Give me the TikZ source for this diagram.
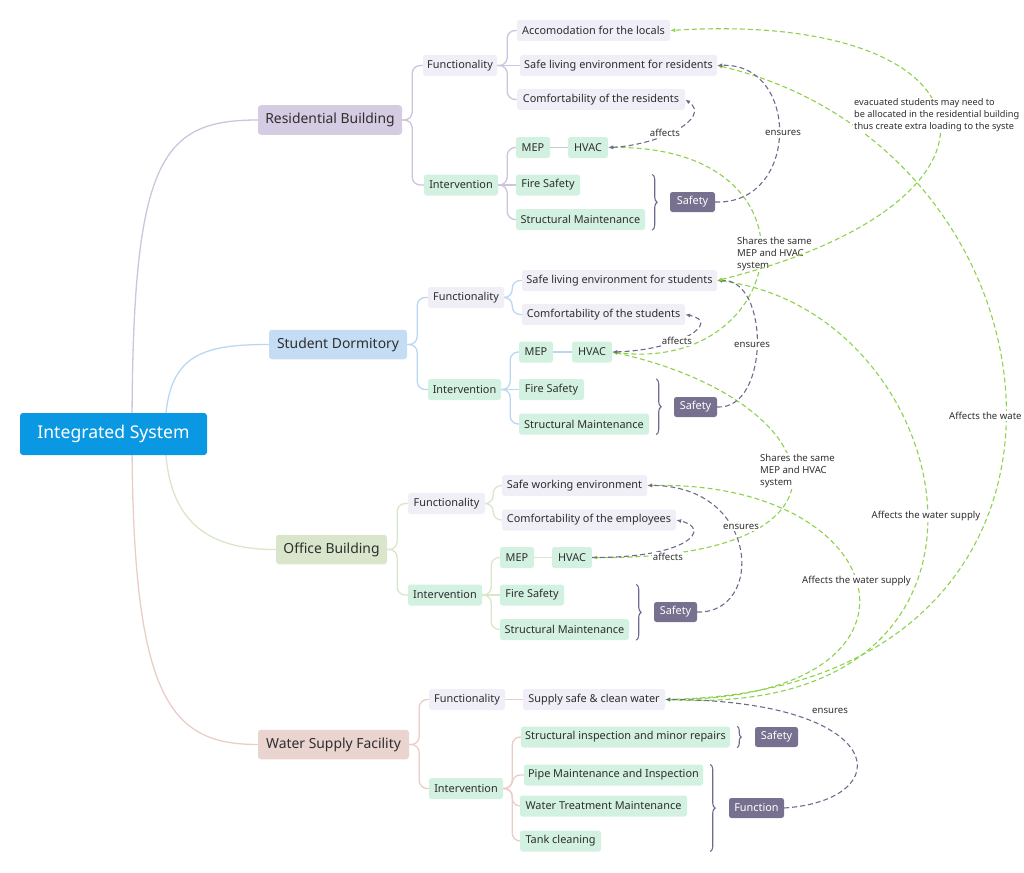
\documentclass[tikz,border=0pt]{standalone}
\usepackage{fontspec}
\setmainfont{Noto Sans}
\usetikzlibrary{arrows.meta,decorations.pathreplacing,calc,backgrounds}
\definecolor{rootblue}{HTML}{0A98E2}
\definecolor{txt}{HTML}{2E2E2E}
\definecolor{fgray}{HTML}{F0EFF7}
\definecolor{imint}{HTML}{D3F1E1}
\definecolor{sumpurple}{HTML}{77718F}
\definecolor{resfill}{HTML}{D5CBE3}
\definecolor{stufill}{HTML}{C5DDF4}
\definecolor{offfill}{HTML}{D9E6CB}
\definecolor{watfill}{HTML}{E9D4D0}
\definecolor{resline}{HTML}{CDC4DE}
\definecolor{stuline}{HTML}{BAD7F1}
\definecolor{offline}{HTML}{D8E7C9}
\definecolor{watline}{HTML}{EBCDC7}
\definecolor{relpurple}{HTML}{6F6A8F}
\definecolor{relgreen}{HTML}{8CD24A}
\definecolor{bracecol}{HTML}{6F6A8F}
\begin{document}
\begin{tikzpicture}[x=1pt,y=-1pt,
  box/.style={rounded corners=2.5pt, inner sep=0pt, minimum height=21pt, font=\fontsize{10.9}{13}\selectfont, text=txt},
  fbox/.style={box, fill=fgray},
  ibox/.style={box, fill=imint},
  sbox/.style={box, fill=sumpurple, text=white, minimum height=20pt},
  lone/.style={box, minimum height=29.5pt, font=\fontsize{13.9}{16}\selectfont, rounded corners=3pt},
  w/.style={minimum width=#1pt},
  lab/.style={font=\fontsize{9.6}{12}\selectfont, text=txt, inner sep=1pt},
  rel/.style={dash pattern=on 5pt off 3pt, line width=1.1pt},
  prel/.style={rel, draw=relpurple, arrows={-Latex[length=5pt,width=4pt]}},
  grel/.style={rel, draw=relgreen, arrows={Latex[length=5pt,width=4pt]-Latex[length=5pt,width=4pt]}},
  bothtips/.style={arrows={Latex[length=5pt,width=4pt]-Latex[length=5pt,width=4pt]}},
  brc/.style={decorate, decoration={brace, amplitude=5pt}, draw=bracecol, line width=1.1pt},
  tr/.style={line width=1.3pt, rounded corners=8pt}
]
\useasboundingbox (0,0) rectangle (1024,872);

% root
\node[box, fill=rootblue, text=white, minimum width=187pt, minimum height=42pt, rounded corners=3pt, font=\fontsize{17.6}{20}\selectfont] (root) at (113.5,434) {Integrated System};
\coordinate (rootA) at ($(root.center)+(18.5,0)$);
\coordinate (rootB) at ($(root.center)+(51.5,0)$);

% level one
\node[lone, fill=resfill, w=144] (res) at (330,120) {Residential Building};
\node[lone, fill=stufill, w=138] (stu) at (338,344.5) {Student Dormitory};
\node[lone, fill=offfill, w=111] (off) at (331.5,549.5) {Office Building};
\node[lone, fill=watfill, w=151] (wat) at (333.5,744.5) {Water Supply Facility};

% residential
\node[fbox, w=74] (rFunc) at (460,65.5) {Functionality};
\node[ibox, w=74] (rInt) at (461,185) {Intervention};
\node[fbox, w=153] (rAcc) at (593.5,30.5) {Accomodation for the locals};
\node[fbox, w=197] (rSafe) at (618.5,65.5) {Safe living environment for residents};
\node[fbox, w=168] (rComf) at (601,99.5) {Comfortability of the residents};
\node[ibox, w=34] (rMEP) at (533,147.5) {MEP};
\node[ibox, w=40] (rHVAC) at (588,147.5) {HVAC};
\node[ibox, w=64] (rFire) at (548,185) {Fire Safety};
\node[ibox, w=129] (rStruct) at (580.5,219.5) {Structural Maintenance};
\node[sbox, w=45] (rSafety) at (692.5,202) {Safety};

% student
\node[fbox, w=76] (sFunc) at (466,297.5) {Functionality};
\node[ibox, w=73] (sInt) at (464.5,389.5) {Intervention};
\node[fbox, w=195] (sSafe) at (619.5,280.5) {Safe living environment for students};
\node[fbox, w=163] (sComf) at (603.5,314.5) {Comfortability of the students};
\node[ibox, w=34] (sMEP) at (536,352) {MEP};
\node[ibox, w=40] (sHVAC) at (592,352) {HVAC};
\node[ibox, w=65] (sFire) at (551.5,389.5) {Fire Safety};
\node[ibox, w=130] (sStruct) at (584,424) {Structural Maintenance};
\node[sbox, w=43] (sSafety) at (695.5,407) {Safety};

% office
\node[fbox, w=77] (oFunc) at (446.5,503.5) {Functionality};
\node[ibox, w=74] (oInt) at (445,595) {Intervention};
\node[fbox, w=145] (oSafe) at (574.5,485.5) {Safe working environment};
\node[fbox, w=174] (oComf) at (589,520) {Comfortability of the employees};
\node[ibox, w=34] (oMEP) at (517,557.5) {MEP};
\node[ibox, w=40] (oHVAC) at (572,557.5) {HVAC};
\node[ibox, w=64] (oFire) at (532,595) {Fire Safety};
\node[ibox, w=129] (oStruct) at (564.5,629.5) {Structural Maintenance};
\node[sbox, w=43] (oSafety) at (675.5,612) {Safety};

% water
\node[fbox, w=76] (wFunc) at (467,699.5) {Functionality};
\node[ibox, w=74] (wInt) at (466,788.5) {Intervention};
\node[fbox, w=142] (wSupply) at (594,699.5) {Supply safe \& clean water};
\node[ibox, w=209] (wInsp) at (625.5,737) {Structural inspection and minor repairs};
\node[sbox, w=43] (wSafety) at (776.5,737) {Safety};
\node[ibox, w=179] (wPipe) at (613.5,775) {Pipe Maintenance and Inspection};
\node[ibox, w=167] (wTreat) at (603.5,806) {Water Treatment Maintenance};
\node[ibox, w=81] (wTank) at (560.5,841) {Tank cleaning};
\node[sbox, w=55] (wFunction) at (756.5,808) {Function};

% tree connectors
\begin{scope}[on background layer]
\draw[tr, draw=resline] (rootA) .. controls ($(rootA)+(0,-274)$) and ($(res.west)+(-98,0)$) .. (res.west);
\draw[tr, draw=stuline] (rootB) .. controls ($(rootB)+(0,-79)$) and ($(stu.west)+(-69,0)$) .. (stu.west);
\draw[tr, draw=offline] (rootB) .. controls ($(rootB)+(0,86)$) and ($(off.west)+(-71,0)$) .. (off.west);
\draw[tr, draw=watline] (rootA) .. controls ($(rootA)+(0,266)$) and ($(wat.west)+(-88,0)$) .. (wat.west);
% residential
\draw[tr, draw=resline] (res.east) -- ++(10,0) |- (rFunc.west);
\draw[tr, draw=resline] (res.east) -- ++(10,0) |- (rInt.west);
\draw[tr, draw=resline] (rFunc.east) -- ++(10,0) |- (rAcc.west);
\draw[tr, draw=resline] (rFunc.east) -- (rSafe.west);
\draw[tr, draw=resline] (rFunc.east) -- ++(10,0) |- (rComf.west);
\draw[tr, draw=resline] (rInt.east) -- ++(9,0) |- (rMEP.west);
\draw[tr, draw=resline] (rInt.east) -- (rFire.west);
\draw[tr, draw=resline] (rInt.east) -- ++(9,0) |- (rStruct.west);
\draw[tr, draw=resline] (rMEP.east) -- (rHVAC.west);
% student
\draw[tr, draw=stuline] (stu.east) -- ++(10,0) |- (sFunc.west);
\draw[tr, draw=stuline] (stu.east) -- ++(10,0) |- (sInt.west);
\draw[tr, draw=stuline] (sFunc.east) -- ++(8,0) |- (sSafe.west);
\draw[tr, draw=stuline] (sFunc.east) -- ++(8,0) |- (sComf.west);
\draw[tr, draw=stuline] (sInt.east) -- ++(9,0) |- (sMEP.west);
\draw[tr, draw=stuline] (sInt.east) -- (sFire.west);
\draw[tr, draw=stuline] (sInt.east) -- ++(9,0) |- (sStruct.west);
\draw[tr, draw=stuline] (sMEP.east) -- (sHVAC.west);
% office
\draw[tr, draw=offline] (off.east) -- ++(10,0) |- (oFunc.west);
\draw[tr, draw=offline] (off.east) -- ++(10,0) |- (oInt.west);
\draw[tr, draw=offline] (oFunc.east) -- ++(8,0) |- (oSafe.west);
\draw[tr, draw=offline] (oFunc.east) -- ++(8,0) |- (oComf.west);
\draw[tr, draw=offline] (oInt.east) -- ++(9,0) |- (oMEP.west);
\draw[tr, draw=offline] (oInt.east) -- (oFire.west);
\draw[tr, draw=offline] (oInt.east) -- ++(9,0) |- (oStruct.west);
\draw[tr, draw=offline] (oMEP.east) -- (oHVAC.west);
% water
\draw[tr, draw=watline] (wat.east) -- ++(10,0) |- (wFunc.west);
\draw[tr, draw=watline] (wat.east) -- ++(10,0) |- (wInt.west);
\draw[tr, draw=watline] (wFunc.east) -- (wSupply.west);
\draw[tr, draw=watline] (wInt.east) -- ++(9,0) |- (wInsp.west);
\draw[tr, draw=watline] (wInt.east) -- ++(9,0) |- (wPipe.west);
\draw[tr, draw=watline] (wInt.east) -- ++(9,0) |- (wTreat.west);
\draw[tr, draw=watline] (wInt.east) -- ++(9,0) |- (wTank.west);
\end{scope}

% braces
\draw[brc] ($(rStruct.east |- rFire.north)+(7,0)$) -- ($(rStruct.south east)+(7,0)$);
\draw[brc] ($(sStruct.east |- sFire.north)+(7,0)$) -- ($(sStruct.south east)+(7,0)$);
\draw[brc] ($(oStruct.east |- oFire.north)+(7,0)$) -- ($(oStruct.south east)+(7,0)$);
\draw[brc, decoration={brace, amplitude=4pt}] ($(wInsp.north east)+(7,0)$) -- ($(wInsp.south east)+(7,0)$);
\draw[brc] ($(wPipe.north east)+(7,0)$) -- ($(wPipe.east |- wTank.south)+(7,0)$);

% relationships: green
\draw[grel] (rHVAC.east) .. controls (830,145) and (790,375) .. (sHVAC.east);
\draw[grel] (sHVAC.east) .. controls (830,400) and (880,560) .. (oHVAC.east);
\draw[grel] (rSafe.east) .. controls (1080,150) and (1140,690) .. (wSupply.east);
\draw[grel] (sSafe.east) .. controls (960,310) and (1050,720) .. (wSupply.east);
\draw[grel] (oSafe.east) .. controls (900,480) and (950,700) .. (wSupply.east);

% relationships: purple
\draw[prel, bothtips] (rHVAC.east) .. controls (660,145) and (712,118) .. (rComf.east);
\draw[prel] (rSafety.east) .. controls (800,205) and (800,62) .. (rSafe.east);
\draw[prel, bothtips] (sHVAC.east) .. controls (680,350) and (722,322) .. (sComf.east);
\draw[prel] (sSafety.east) .. controls (770,410) and (770,278) .. (sSafe.east);
\draw[prel] (oHVAC.east) .. controls (690,558) and (712,528) .. (oComf.east);
\draw[prel] (oSafety.east) .. controls (765,614) and (760,485) .. (oSafe.east);
\draw[prel] (wFunction.east) .. controls (900,800) and (890,700) .. (wSupply.east);

% labels
\node[lab, fill=white] (la1) at (665,133) {affects};
\node[lab, fill=white] (le1) at (783,133) {ensures};
\node[lab, fill=white] (la2) at (677,341) {affects};
\node[lab, fill=white] (le2) at (752,345) {ensures};
\node[lab, fill=white] (la3) at (668,557) {affects};
\node[lab, fill=white] (le3) at (741,527) {ensures};
\node[lab, fill=white] (le4) at (830,711) {ensures};
\node[lab, anchor=west, align=left, fill=white] (ls1) at (736,254) {Shares the same\\MEP and HVAC\\system};
\node[lab, anchor=west, align=left, fill=white] (ls2) at (759,471) {Shares the same\\MEP and HVAC\\system};
\node[lab, anchor=west, fill=white] (lw1) at (948,416) {Affects the wate};
\node[lab, fill=white] (lw2) at (926,516) {Affects the water supply};
\node[lab, fill=white] (lw3) at (856.5,581) {Affects the water supply};

% evacuated relationship drawn over the shares label, under its own label
\draw[grel] (sSafe.east) .. controls (1040,200) and (1000,10) .. (rAcc.east);
\node[lab, anchor=west, align=left, fill=white, font=\fontsize{9.2}{12}\selectfont] (lev) at (853,115.5) {evacuated students may need to\\be allocated in the residential building\\thus create extra loading to the syste};
\end{tikzpicture}
\end{document}
